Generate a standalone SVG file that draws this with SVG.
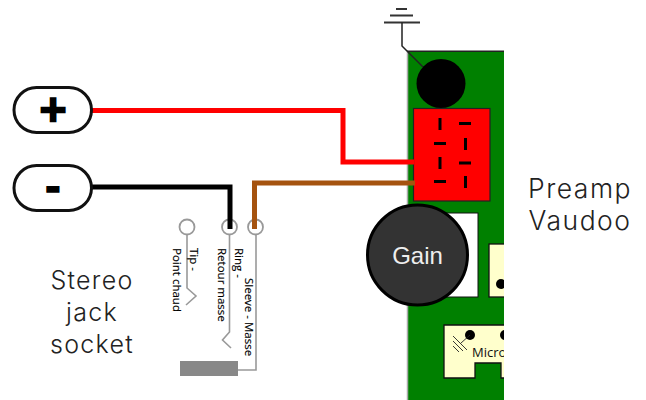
<svg xmlns="http://www.w3.org/2000/svg" width="646" height="400" viewBox="0 0 646 400">
<style>
.lbl{font-family:Inter,"Liberation Sans",sans-serif;font-size:25px;font-weight:300;letter-spacing:1.300px;fill:#222;text-anchor:middle}
.big{font-size:26.500px;letter-spacing:1.500px}
.sm{font-family:"Open Sans","Liberation Sans",sans-serif;font-size:11.500px;fill:#000;stroke:#000;stroke-width:0.150px}
.pill{fill:#fff;stroke:#111;stroke-width:3}
.sym{font-family:"DejaVu Sans",sans-serif;font-weight:bold;fill:#000;stroke:#000;text-anchor:middle}
.wire{fill:none;stroke-width:5;stroke-linejoin:miter}
.grey{fill:none;stroke:#999;stroke-width:1.600}
.pin{fill:#fff;stroke:#999;stroke-width:1.800}
.dash{stroke:#000;stroke-width:3;fill:none}
.cream{fill:#ffffcc;stroke:#111;stroke-width:1.300}
</style>
<defs>
<clipPath id="boardClip"><rect x="400" y="40" width="104" height="360"/></clipPath>
</defs>
<g id="preamp">
<g clip-path="url(#boardClip)">
<rect x="407.500" y="51" width="110" height="360" fill="#008000"/>
<path d="M407.500 400V51" stroke="#aaa" stroke-width="1.500" fill="none"/>
<path d="M407 51.200H504" stroke="#222" stroke-width="1.600" fill="none"/>
<rect x="440" y="213" width="38" height="84" fill="#fff" stroke="#111" stroke-width="1"/>
<rect x="489" y="244" width="30" height="53" class="cream"/>
<circle cx="501" cy="284" r="5" fill="#000"/>
<path d="M444 325H520V378H501V363H475V378H444Z" class="cream"/>
<circle cx="470" cy="335" r="5" fill="#000"/>
<circle cx="505" cy="335" r="5" fill="#000"/>
<path d="M470 335L461 343M453 336L467 350M453 341L463 351M453 346L459 352" stroke="#222" stroke-width="0.900" fill="none"/>
<text x="472" y="357" style="font-family:'Open Sans','Liberation Sans',sans-serif;font-size:13px;font-weight:500;fill:#111">Micro</text>
</g>
</g>
<g id="ground">
<path d="M396 9H407M390 15.500H413M384 22.500H420" stroke="#333" stroke-width="1.800" fill="none"/>
<path d="M402 22.500V46L423 67" stroke="#222" stroke-width="1.500" fill="none"/>
</g>
<g id="black-pad"><circle cx="441" cy="83.500" r="24.500" fill="#000"/></g>
<g id="red-connector">
<rect x="413.500" y="108.500" width="76.500" height="92.500" fill="#f00" stroke="#222" stroke-width="1.200"/>
<path class="dash" d="M440 118V130M459 123.500H471M434 143.500H446M465.500 138V150M440 157V169M459 163H471M434 181.500H446M465.500 176V188"/>
</g>
<g id="gain">
<circle cx="417.500" cy="255" r="50" fill="#333" stroke="#000" stroke-width="3"/>
<text x="417.500" y="264" style="font-family:'Liberation Sans',Arial,sans-serif;font-size:24px;fill:#eee;text-anchor:middle">Gain</text>
</g>
<g id="jack">
<path class="grey" d="M187 234V288L196 296L186 305"/>
<path class="grey" d="M229.500 234V332L222.500 340L231 348"/>
<path class="grey" d="M256 234V370H238"/>
<rect x="180" y="361" width="58" height="15" fill="#888"/>
<circle class="pin" cx="187" cy="227" r="7.500"/>
<circle class="pin" cx="229.500" cy="227" r="7.500"/>
<circle class="pin" cx="255.500" cy="227" r="7.500"/>
</g>
<g id="connectors">
<path class="wire" stroke="#f00" d="M92 110.500H343V162H414"/>
<path class="wire" stroke="#000" d="M90 187H230V229"/>
<path class="wire" stroke="#a5530f" d="M254.500 229V183H415"/>
</g>
<g id="plus"><rect class="pill" x="14" y="87.500" width="77.500" height="45" rx="22.500"/><text class="sym" x="53" y="121" font-size="36" stroke-width="2.500">+</text></g>
<g id="minus"><rect class="pill" x="14" y="165.500" width="77.500" height="45" rx="22.500"/><text class="sym" x="53" y="200" font-size="38" stroke-width="1.500">-</text></g>
<g id="labels">
<text class="lbl big" x="580" y="198">Preamp</text>
<text class="lbl big" x="580" y="230">Vaudoo</text>
<text class="lbl" x="92" y="289">Stereo</text>
<text class="lbl" x="92" y="321">jack</text>
<text class="lbl" x="92" y="353">socket</text>
<text class="sm" transform="translate(190,248) rotate(90)">Tip -</text>
<text class="sm" transform="translate(173,248) rotate(90)">Point chaud</text>
<text class="sm" transform="translate(235,248) rotate(90)">Ring -</text>
<text class="sm" transform="translate(218,248) rotate(90)">Retour masse</text>
<text class="sm" transform="translate(245,278) rotate(90)">Sleeve - Masse</text>
</g>
</svg>
